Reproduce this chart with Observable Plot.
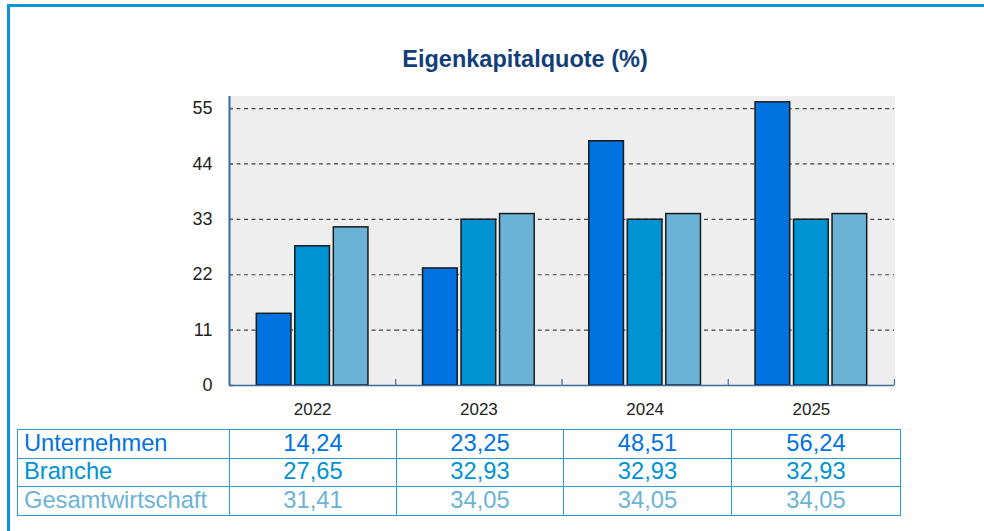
<!DOCTYPE html>
<html>
<head>
<meta charset="utf-8">
<script src="https://cdn.jsdelivr.net/npm/d3@7"></script>
<script src="https://cdn.jsdelivr.net/npm/@observablehq/plot@0.6"></script>
<style>
  body { margin: 0; background: #fff; font-family: "Liberation Sans", Arial, sans-serif; }
  #wrap { position: relative; width: 984px; height: 531px; overflow: hidden; }
  #border { position: absolute; left: 7px; top: 4px; width: 984px; height: 540px;
            border-top: 3px solid #0795d6; border-left: 3px solid #0795d6; box-sizing: border-box; }
  #title { position: absolute; left: 0; top: 46px; width: 1050px; text-align: center;
           font-weight: bold; font-size: 23.5px; color: #123f7a; }
  #chart { position: absolute; left: 0; top: 0; }
  table { position: absolute; left: 17px; top: 429px; border-collapse: collapse; table-layout: fixed;
          width: 883px; font-size: 23.7px; }
  tr { height: 28.5px; }
  td { border: 1.5px solid #2a9bd6; padding: 0 0 0 6px; line-height: 1; white-space: nowrap; overflow: hidden; }
  td.v { text-align: center; padding: 0; }
</style>
</head>
<body>
<div id="wrap">
  <div id="border"></div>
  <div id="title">Eigenkapitalquote (%)</div>
  <div id="chart"></div>
  <table id="tbl"><colgroup id="cols"></colgroup></table>
</div>
<script>
const years = ["2022", "2023", "2024", "2025"];
const seriesNames = ["Unternehmen", "Branche", "Gesamtwirtschaft"];
const unternehmen = [14.24, 23.25, 48.51, 56.24];
const branche = [27.65, 32.93, 32.93, 32.93];
const gesamtwirtschaft = [31.41, 34.05, 34.05, 34.05];
const seriesColors = ["#0073e0", "#0093d3", "#6bb3d6"];
const yTicks = [0, 11, 22, 33, 44, 55];
const yMax = 57.4;

const seriesValues = [unternehmen, branche, gesamtwirtschaft];
const data = [];
years.forEach((yr, i) => seriesNames.forEach((s, j) => data.push({year: yr, series: s, value: seriesValues[j][i]})));

const W = 984, mL = 229, mR = 90, mT = 96, mB = 35, H = 420;
const pIn = 0.1, pOut = 0.709;
const facetW = (W - mL - mR) / years.length;
const step = facetW / (seriesNames.length - pIn + 2 * pOut);
const edgeDx = pOut * step + (1 - pIn) * step / 2;
const pxPerUnit = (H - mT - mB) / yMax;
const axisBlue = "#3b6aa0";

const firstBars = data.filter(d => d.year === years[0] && d.series === seriesNames[0]);
const lastBars = data.filter(d => d.series === seriesNames[seriesNames.length - 1]);
const yTickRows = yTicks.map(v => ({year: years[0], v}));

const chart = Plot.plot({
  width: W,
  height: H,
  marginLeft: mL,
  marginRight: mR,
  marginTop: mT,
  marginBottom: mB,
  style: {fontFamily: "'Liberation Sans', Arial, sans-serif", fontSize: "17px", color: "#222", background: "transparent"},
  fx: {domain: years, padding: 0, round: false, label: null, axis: null},
  x: {domain: seriesNames, paddingInner: pIn, paddingOuter: pOut, round: false, axis: null},
  y: {domain: [0, yMax], axis: null},
  color: {domain: seriesNames, range: seriesColors},
  marks: [
    Plot.frame({fill: "#eeeeee", stroke: "#eeeeee", strokeWidth: 1}),
    Plot.ruleY(yTicks.filter(d => d > 0), {stroke: "#444", strokeDasharray: "4,3.5", strokeWidth: 1.2}),
    Plot.barY(data, {fx: "year", x: "series", y: "value", fill: "series", stroke: "#1a1a1a", strokeWidth: 1.5}),
    Plot.ruleY([0], {stroke: axisBlue, strokeWidth: 1.5}),
    Plot.ruleX(lastBars, {fx: "year", x: "series", y1: 0, y2: 6 / pxPerUnit, stroke: axisBlue, strokeWidth: 1.2, dx: edgeDx}),
    Plot.ruleX(firstBars, {fx: "year", x: "series", y1: 0, y2: yMax, stroke: axisBlue, strokeWidth: 2, dx: -edgeDx}),
    Plot.ruleY(yTickRows, {fx: "year", y: "v", stroke: axisBlue, strokeWidth: 1.5, insetRight: facetW - 4}),
    Plot.axisY({ticks: yTicks, tickSize: 0, tickPadding: 17, fontSize: 18, label: null, tickFormat: d => String(d)}),
    Plot.axisFx({anchor: "bottom", tickSize: 0, tickPadding: 17, fontSize: 17, label: null})
  ]
});
document.getElementById("chart").appendChild(chart);

const tbl = document.getElementById("tbl");
const cols = document.getElementById("cols");
[212, 167, 167, 168, 169].forEach(w => {
  const c = document.createElement("col");
  c.style.width = w + "px";
  cols.appendChild(c);
});
seriesNames.forEach((s, j) => {
  const tr = document.createElement("tr");
  const th = document.createElement("td");
  th.textContent = s;
  th.style.color = seriesColors[j];
  tr.appendChild(th);
  seriesValues[j].forEach((v) => {
    const td = document.createElement("td");
    td.className = "v";
    td.textContent = v.toFixed(2).replace(".", ",");
    td.style.color = seriesColors[j];
    tr.appendChild(td);
  });
  tbl.appendChild(tr);
});
</script>
</body>
</html>
